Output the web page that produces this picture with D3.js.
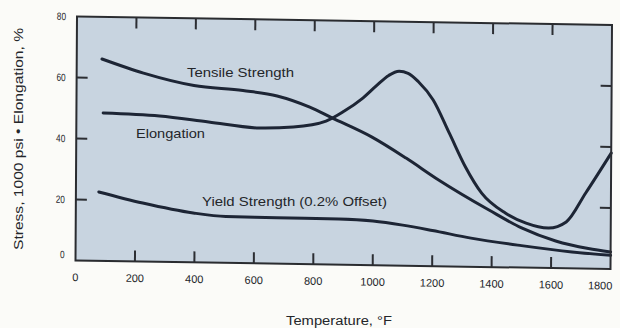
<!DOCTYPE html>
<html>
<head>
<meta charset="utf-8">
<script src="https://cdn.jsdelivr.net/npm/d3@7"></script>
<style>
  html, body { margin: 0; padding: 0; background: #fbfbf8; }
  svg { display: block; }
  text { font-family: "Liberation Sans", Arial, sans-serif; fill: #24262a; }
</style>
</head>
<body>
<svg id="chart" width="620" height="328"></svg>
<script>
// Temperature (°F) vs. value (stress in 1000 psi, or elongation in %)
const tensileStrength = [
  [85, 66.2], [225, 61.8], [395, 58.0], [560, 56.6], [675, 55.0], [785, 51.5],
  [860, 48.1], [995, 42.0], [1110, 35.3], [1220, 28.3], [1390, 18.7],
  [1500, 13.0], [1615, 8.9], [1725, 6.6], [1800, 5.6]
];
const elongation = [
  [90, 48.5], [280, 47.8], [445, 46.1], [615, 44.4], [730, 44.9], [840, 47.0],
  [900, 50.3], [960, 54.5], [1010, 59.0], [1050, 62.3], [1085, 63.7],
  [1115, 63.1], [1150, 60.4], [1200, 54.5], [1255, 43.7], [1310, 32.7],
  [1365, 24.2], [1445, 17.8], [1515, 14.6], [1590, 13.1], [1650, 15.2],
  [1715, 24.8], [1800, 38.0]
];
const yieldStrength = [
  [77, 22.6], [225, 19.2], [395, 16.2], [505, 15.2], [675, 15.1], [885, 15.0],
  [1000, 14.5], [1100, 13.3], [1200, 11.7], [1330, 9.4], [1500, 7.2],
  [1670, 5.4], [1800, 4.5]
];
const xTicks = [0, 200, 400, 600, 800, 1000, 1200, 1400, 1600, 1800];
const yTicks = [0, 20, 40, 60, 80];
const innerXTicks = [200, 400, 600, 800, 1000, 1200, 1400, 1600];
const innerYTicks = [20, 40, 60];

const W = 535, H = 244;
const svg = d3.select("#chart");

// The plot frame sits slightly tilted on the page
const tiltY = 8.5 / W, tiltX = -1.5 / H;
const g = svg.append("g")
  .attr("transform", `matrix(1, ${tiltY}, ${tiltX}, 1, 77, 16.5)`);

const x = d3.scaleLinear().domain([0, 1800]).range([0, W]);
const y = d3.scaleLinear().domain([0, 80]).range([H, 0]);

g.append("rect")
  .attr("x", 0).attr("y", 0).attr("width", W).attr("height", H)
  .attr("fill", "#c8d4e0");

const tickLen = 11;
const tickStyle = s => s.attr("stroke", "#2c2e33").attr("stroke-width", 2);

// inward ticks, bottom and top
g.selectAll(".tb").data(innerXTicks).join("line")
  .attr("x1", d => x(d)).attr("x2", d => x(d))
  .attr("y1", H).attr("y2", H - tickLen).call(tickStyle);
g.selectAll(".tt").data(innerXTicks).join("line")
  .attr("x1", d => x(d)).attr("x2", d => x(d))
  .attr("y1", 0).attr("y2", tickLen).call(tickStyle);
// inward ticks, left and right
g.selectAll(".tl").data(innerYTicks).join("line")
  .attr("x1", 0).attr("x2", tickLen)
  .attr("y1", d => y(d)).attr("y2", d => y(d)).call(tickStyle);
g.selectAll(".tr").data(innerYTicks).join("line")
  .attr("x1", W).attr("x2", W - tickLen)
  .attr("y1", d => y(d)).attr("y2", d => y(d)).call(tickStyle);

// curves
const line = d3.line()
  .x(d => x(d[0])).y(d => y(d[1]))
  .curve(d3.curveMonotoneX);

[tensileStrength, elongation, yieldStrength].forEach(series => {
  g.append("path")
    .datum(series)
    .attr("d", line)
    .attr("fill", "none")
    .attr("stroke", "#1d2535")
    .attr("stroke-width", 3)
    .attr("stroke-linecap", "round")
    .attr("stroke-linejoin", "round");
});

// frame
g.append("rect")
  .attr("x", 0).attr("y", 0).attr("width", W).attr("height", H)
  .attr("fill", "none").attr("stroke", "#2a2c30").attr("stroke-width", 2);

// x tick labels
g.selectAll(".xl").data(xTicks).join("text")
  .attr("x", d => d === 1800 ? x(d) + 2 : x(d))
  .attr("y", H + 20.5)
  .attr("text-anchor", d => d === 1800 ? "end" : "middle")
  .attr("font-size", 11)
  .attr("fill", "#3a3c40")
  .text(d => d);

// y tick labels
g.selectAll(".yl").data(yTicks).join("text")
  .attr("x", -11)
  .attr("y", d => y(d) + (d === 0 ? -6 : 0))
  .attr("dy", "0.35em")
  .attr("text-anchor", "end")
  .attr("font-size", 10.5)
  .attr("fill", "#3a3c40")
  .attr("textLength", d => String(d).length * 4.6)
  .attr("lengthAdjust", "spacingAndGlyphs")
  .text(d => d);

// curve labels
const curveLabels = [
  { text: "Tensile Strength", x: 187, y: 77, len: 107 },
  { text: "Elongation", x: 136, y: 137.5, len: 69 },
  { text: "Yield Strength (0.2% Offset)", x: 202, y: 206, len: 185 }
];
svg.selectAll(".cl").data(curveLabels).join("text")
  .attr("x", d => d.x).attr("y", d => d.y)
  .attr("font-size", 13.5)
  .attr("textLength", d => d.len)
  .attr("lengthAdjust", "spacingAndGlyphs")
  .text(d => d.text);

// axis titles
svg.append("text")
  .attr("x", 339).attr("y", 324.5)
  .attr("text-anchor", "middle")
  .attr("font-size", 12.5)
  .attr("textLength", 106)
  .attr("lengthAdjust", "spacingAndGlyphs")
  .text("Temperature, °F");

svg.append("text")
  .attr("transform", "translate(23,139) rotate(-90)")
  .attr("text-anchor", "middle")
  .attr("font-size", 12.5)
  .attr("textLength", 222)
  .attr("lengthAdjust", "spacingAndGlyphs")
  .text("Stress, 1000 psi  \u2022  Elongation, %");
</script>
</body>
</html>
